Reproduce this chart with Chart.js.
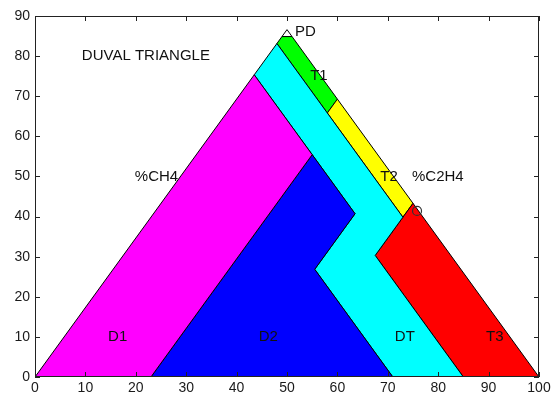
<!DOCTYPE html>
<html>
<head>
<meta charset="utf-8">
<script src="https://cdn.jsdelivr.net/npm/chart.js@4/dist/chart.umd.min.js"></script>
<style>
  html, body { margin: 0; padding: 0; background: #fff; }
  #wrap { width: 554px; height: 397px; }
</style>
</head>
<body>
<div id="wrap"><canvas id="duval" width="554" height="397"></canvas></div>
<script>
// zone outlines (x along the base, y = height), closed polygons
const zoneNames = ["D1", "D2", "DT", "T3", "T2", "T1", "PD"];
const d1X = [0, 23, 55, 43.5, 0];
const d1Y = [0, 0, 55.43, 75.34, 0];
const d2X = [23, 71, 55.5, 63.5, 55, 23];
const d2Y = [0, 0, 26.85, 40.7, 55.43, 0];
const dtX = [43.5, 55, 63.5, 55.5, 71, 85, 67.5, 73, 58, 48, 43.5];
const dtY = [75.34, 55.43, 40.7, 26.85, 0, 0, 30.31, 39.84, 65.82, 83.14, 75.34];
const t3X = [75, 67.5, 85, 100, 75];
const t3Y = [43.3, 30.31, 0, 0, 43.3];
const t2X = [58, 73, 75, 60, 58];
const t2Y = [65.82, 39.84, 43.3, 69.28, 65.82];
const t1X = [48, 58, 60, 51, 49, 48];
const t1Y = [83.14, 65.82, 69.28, 84.87, 84.87, 83.14];
const pdX = [49, 51, 50, 49];
const pdY = [84.87, 84.87, 86.6, 84.87];
const zoneColors = ["#ff00ff", "#0000ff", "#00ffff", "#ff0000", "#ffff00", "#00ff00", "#ffffff"];

// measured sample point
const sampleX = [75.8];
const sampleY = [41.4];

// text annotations
const labelText = ["DUVAL TRIANGLE", "PD", "T1", "%CH4", "T2", "%C2H4", "D1", "D2", "DT", "T3"];
const labelX = [9.3, 51.6, 54.6, 19.8, 68.5, 74.8, 14.5, 44.4, 71.4, 89.5];
const labelY = [80, 86, 75, 50, 50, 50, 10, 10, 10, 10];

const xTicks = [0, 10, 20, 30, 40, 50, 60, 70, 80, 90, 100];
const yTicks = [0, 10, 20, 30, 40, 50, 60, 70, 80, 90];

const zoneX = [d1X, d2X, dtX, t3X, t2X, t1X, pdX];
const zoneY = [d1Y, d2Y, dtY, t3Y, t2Y, t1Y, pdY];

const toPoints = (xs, ys) => xs.map((x, i) => ({ x: x, y: ys[i] }));

const datasets = zoneNames.map((name, i) => ({
  label: name,
  type: "line",
  data: toPoints(zoneX[i], zoneY[i]),
  showLine: true,
  fill: "shape",
  backgroundColor: zoneColors[i],
  borderColor: "#000",
  borderWidth: 1,
  pointRadius: 0,
  tension: 0,
}));

datasets.push({
  label: "sample",
  type: "scatter",
  order: -1,
  data: toPoints(sampleX, sampleY),
  showLine: false,
  pointRadius: 4.5,
  pointStyle: "circle",
  borderColor: "#333",
  borderWidth: 1.2,
  backgroundColor: "rgba(0,0,0,0)",
});

const FONT = "'Liberation Sans', Arial, Helvetica, sans-serif";

// axes box with inward ticks on all four sides
const boxPlugin = {
  id: "box",
  afterDraw(chart) {
    const { ctx, chartArea: a, scales } = chart;
    const len = 5;
    ctx.save();
    ctx.strokeStyle = "#222";
    ctx.lineWidth = 1;
    ctx.strokeRect(Math.round(a.left) + 0.5, Math.round(a.top) + 0.5,
      Math.round(a.right - a.left) - 1, Math.round(a.bottom - a.top) - 1);
    ctx.beginPath();
    xTicks.forEach((t) => {
      const px = Math.round(scales.x.getPixelForValue(t)) + 0.5;
      ctx.moveTo(px, a.bottom);
      ctx.lineTo(px, a.bottom - len);
      ctx.moveTo(px, a.top);
      ctx.lineTo(px, a.top + len);
    });
    yTicks.forEach((t) => {
      const py = Math.round(scales.y.getPixelForValue(t)) + 0.5;
      ctx.moveTo(a.left, py);
      ctx.lineTo(a.left + len, py);
      ctx.moveTo(a.right, py);
      ctx.lineTo(a.right - len, py);
    });
    ctx.stroke();
    ctx.restore();
  },
};

const textPlugin = {
  id: "zoneText",
  afterDatasetsDraw(chart) {
    const { ctx, scales } = chart;
    ctx.save();
    ctx.font = "15px " + FONT;
    ctx.fillStyle = "#111";
    ctx.textAlign = "left";
    ctx.textBaseline = "middle";
    labelText.forEach((txt, i) => {
      ctx.fillText(txt, scales.x.getPixelForValue(labelX[i]), scales.y.getPixelForValue(labelY[i]));
    });
    ctx.restore();
  },
};

new Chart(document.getElementById("duval"), {
  type: "scatter",
  data: { datasets: datasets },
  options: {
    responsive: false,
    animation: false,
    devicePixelRatio: 1,
    layout: { padding: { top: 16, right: 15, left: 0, bottom: 0 } },
    plugins: {
      legend: { display: false },
      tooltip: { enabled: false },
    },
    scales: {
      x: {
        type: "linear",
        min: 0,
        max: 100,
        afterFit: (s) => { s.height = 20; },
        afterBuildTicks: (s) => { s.ticks = xTicks.map((v) => ({ value: v })); },
        grid: { display: false, drawTicks: false },
        border: { display: false },
        ticks: { color: "#1a1a1a", padding: 3, font: { family: FONT, size: 14 } },
      },
      y: {
        type: "linear",
        min: 0,
        max: 90,
        afterFit: (s) => { s.width = 35; },
        afterBuildTicks: (s) => { s.ticks = yTicks.map((v) => ({ value: v })); },
        grid: { display: false, drawTicks: false },
        border: { display: false },
        ticks: { color: "#1a1a1a", padding: 5, font: { family: FONT, size: 14 } },
      },
    },
  },
  plugins: [boxPlugin, textPlugin],
});
</script>
</body>
</html>
